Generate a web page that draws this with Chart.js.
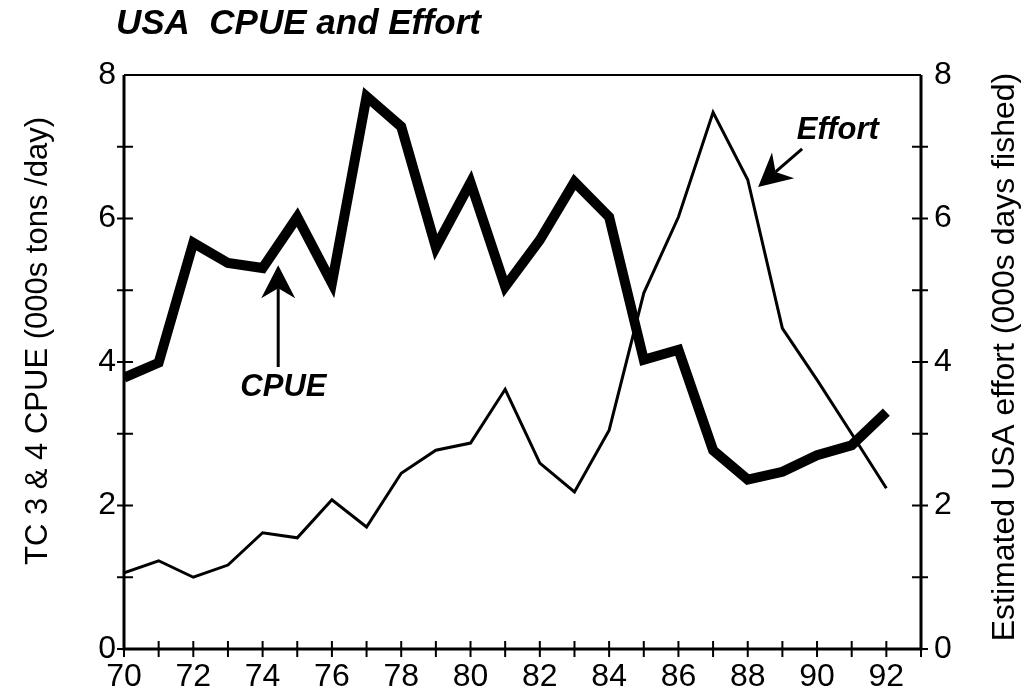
<!DOCTYPE html>
<html>
<head>
<meta charset="utf-8">
<title>USA CPUE and Effort</title>
<script src="https://cdn.jsdelivr.net/npm/chart.js@4.4.1/dist/chart.umd.min.js"></script>
<style>
  html, body { margin: 0; padding: 0; background: #fff; }
  #wrap { width: 1026px; height: 692px; position: relative; }
</style>
</head>
<body>
<div id="wrap"><canvas id="cpueChart"></canvas></div>
<script>
// years 1970 - 1992
const years  = [70, 71, 72, 73, 74, 75, 76, 77, 78, 79, 80, 81, 82, 83, 84, 85, 86, 87, 88, 89, 90, 91, 92];
const cpue   = [3.78, 3.99, 5.66, 5.38, 5.31, 6.02, 5.10, 7.70, 7.28, 5.60, 6.50, 5.05, 5.70, 6.51, 6.02, 4.03, 4.17, 2.77, 2.36, 2.47, 2.70, 2.84, 3.30];
const effort = [1.06, 1.23, 1.00, 1.17, 1.62, 1.55, 2.08, 1.70, 2.45, 2.77, 2.87, 3.62, 2.59, 2.19, 3.05, 4.96, 6.02, 7.48, 6.54, 4.47, 3.75, 3.00, 2.24];
const xTickLabels = ['70', '72', '74', '76', '78', '80', '82', '84', '86', '88', '90', '92'];
const yTickLabels = ['0', '2', '4', '6', '8'];

const chartTitle = 'USA  CPUE and Effort';
const leftTitle = 'TC 3 & 4 CPUE (000s tons /day)';
const rightTitle = 'Estimated USA effort (000s days fished)';

// arrow notes, in data units (year, value)
const notes = [
    { text: 'CPUE',   label: [74.6, 3.65],  tail: [74.45, 3.93], tip: [74.45, 5.35] },
    { text: 'Effort', label: [90.6, 7.23],  tail: [89.57, 6.97], tip: [88.30, 6.44] }
];

const FONT = '"Liberation Sans", Arial, Helvetica, sans-serif';

function toPoints(values) {
    return years.map((yr, i) => ({ x: yr, y: values[i] }));
}

function drawArrow(ctx, x1, y1, x2, y2) {
    let ang = Math.atan2(y2 - y1, x2 - x1);
    let headLen = 33, halfW = 17, notch = 10;
    let bx = x2 - headLen * Math.cos(ang), by = y2 - headLen * Math.sin(ang);
    let nx = x2 - (headLen - notch) * Math.cos(ang), ny = y2 - (headLen - notch) * Math.sin(ang);
    let px = -Math.sin(ang), py = Math.cos(ang);
    ctx.lineWidth = 3;
    ctx.beginPath();
    ctx.moveTo(x1, y1);
    ctx.lineTo(nx, ny);
    ctx.stroke();
    ctx.beginPath();
    ctx.moveTo(x2, y2);
    ctx.lineTo(bx + px * halfW, by + py * halfW);
    ctx.lineTo(nx, ny);
    ctx.lineTo(bx - px * halfW, by - py * halfW);
    ctx.closePath();
    ctx.fill();
}

const frameAndText = {
    id: 'frameAndText',
    afterDatasetsDraw(chart) {
        const { ctx, chartArea: a, scales } = chart;
        const sx = scales.x, yl = scales.y, yr = scales.y2;
        ctx.save();
        ctx.strokeStyle = '#000';
        ctx.fillStyle = '#000';

        // frame
        ctx.lineWidth = 3;
        ctx.beginPath();
        ctx.moveTo(a.left, a.top);
        ctx.lineTo(a.left, a.bottom);
        ctx.lineTo(a.right, a.bottom);
        ctx.lineTo(a.right, a.top);
        ctx.stroke();
        ctx.lineWidth = 2;
        ctx.beginPath();
        ctx.moveTo(a.left, a.top);
        ctx.lineTo(a.right, a.top);
        ctx.stroke();

        // tick marks cross the axis lines
        ctx.lineWidth = 2;
        ctx.beginPath();
        sx.ticks.forEach((t) => {
            let p = sx.getPixelForValue(t.value);
            ctx.moveTo(p, a.bottom - 8);
            ctx.lineTo(p, a.bottom + 8);
        });
        yl.ticks.forEach((t) => {
            if (t.value === yl.max) return;
            let p = yl.getPixelForValue(t.value);
            ctx.moveTo(a.left - 7, p);
            ctx.lineTo(a.left + 9, p);
        });
        yr.ticks.forEach((t) => {
            if (t.value === yr.max) return;
            let p = yr.getPixelForValue(t.value);
            ctx.moveTo(a.right - 9, p);
            ctx.lineTo(a.right + 7, p);
        });
        ctx.stroke();

        // arrows and their words
        notes.forEach((n) => {
            let x1 = sx.getPixelForValue(n.tail[0]), y1 = yl.getPixelForValue(n.tail[1]);
            let x2 = sx.getPixelForValue(n.tip[0]), y2 = yl.getPixelForValue(n.tip[1]);
            drawArrow(ctx, x1, y1, x2, y2);
            ctx.font = 'italic bold 31px ' + FONT;
            ctx.textAlign = 'center';
            ctx.textBaseline = 'middle';
            ctx.fillText(n.text, sx.getPixelForValue(n.label[0]), yl.getPixelForValue(n.label[1]));
        });

        // title
        ctx.font = 'italic bold 35px ' + FONT;
        ctx.textAlign = 'left';
        ctx.textBaseline = 'middle';
        ctx.fillText(chartTitle, 116, 24);

        // axis titles, both read bottom to top
        ctx.textAlign = 'center';
        ctx.font = '31px ' + FONT;
        ctx.save();
        ctx.translate(38, 341);
        ctx.rotate(-Math.PI / 2);
        ctx.fillText(leftTitle, 0, 0);
        ctx.restore();
        ctx.font = '32px ' + FONT;
        ctx.save();
        ctx.translate(1005, 357);
        ctx.rotate(-Math.PI / 2);
        ctx.fillText(rightTitle, 0, 0);
        ctx.restore();

        ctx.restore();
    }
};

const tickFont = { family: FONT, size: 32 };

const ctx = document.getElementById('cpueChart').getContext('2d');
const chart = new Chart(ctx, {
    type: 'line',
    data: {
        datasets: [{
            label: 'CPUE',
            data: toPoints(cpue),
            borderColor: '#000',
            borderWidth: 10,
            borderJoinStyle: 'miter',
            pointRadius: 0,
            tension: 0,
            fill: false,
            yAxisID: 'y'
        }, {
            label: 'Effort',
            data: toPoints(effort),
            borderColor: '#000',
            borderWidth: 3,
            borderJoinStyle: 'miter',
            pointRadius: 0,
            tension: 0,
            fill: false,
            yAxisID: 'y2'
        }]
    },
    options: {
        responsive: true,
        maintainAspectRatio: false,
        devicePixelRatio: 1,
        animation: false,
        layout: { padding: { top: 75, left: 0, right: 0, bottom: 0 } },
        plugins: {
            legend: { display: false },
            tooltip: { enabled: false }
        },
        scales: {
            x: {
                type: 'linear',
                min: 70,
                max: 93,
                grid: { display: false, drawTicks: false },
                border: { display: false },
                ticks: {
                    stepSize: 1,
                    autoSkip: false,
                    maxRotation: 0,
                    padding: 9,
                    color: '#000',
                    font: tickFont,
                    callback: (v) => xTickLabels.includes(String(v)) ? String(v) : ''
                },
                afterFit: (s) => { s.height = 43; }
            },
            y: {
                position: 'left',
                min: 0,
                max: 8,
                grid: { display: false, drawTicks: false },
                border: { display: false },
                ticks: {
                    stepSize: 1,
                    padding: 8,
                    color: '#000',
                    font: tickFont,
                    callback: (v) => yTickLabels.includes(String(v)) ? String(v) : ''
                },
                afterFit: (s) => { s.width = 124; }
            },
            y2: {
                position: 'right',
                min: 0,
                max: 8,
                grid: { display: false, drawTicks: false },
                border: { display: false },
                ticks: {
                    stepSize: 1,
                    padding: 13,
                    color: '#000',
                    font: tickFont,
                    callback: (v) => yTickLabels.includes(String(v)) ? String(v) : ''
                },
                afterFit: (s) => { s.width = 105; }
            }
        }
    },
    plugins: [frameAndText]
});
</script>
</body>
</html>
